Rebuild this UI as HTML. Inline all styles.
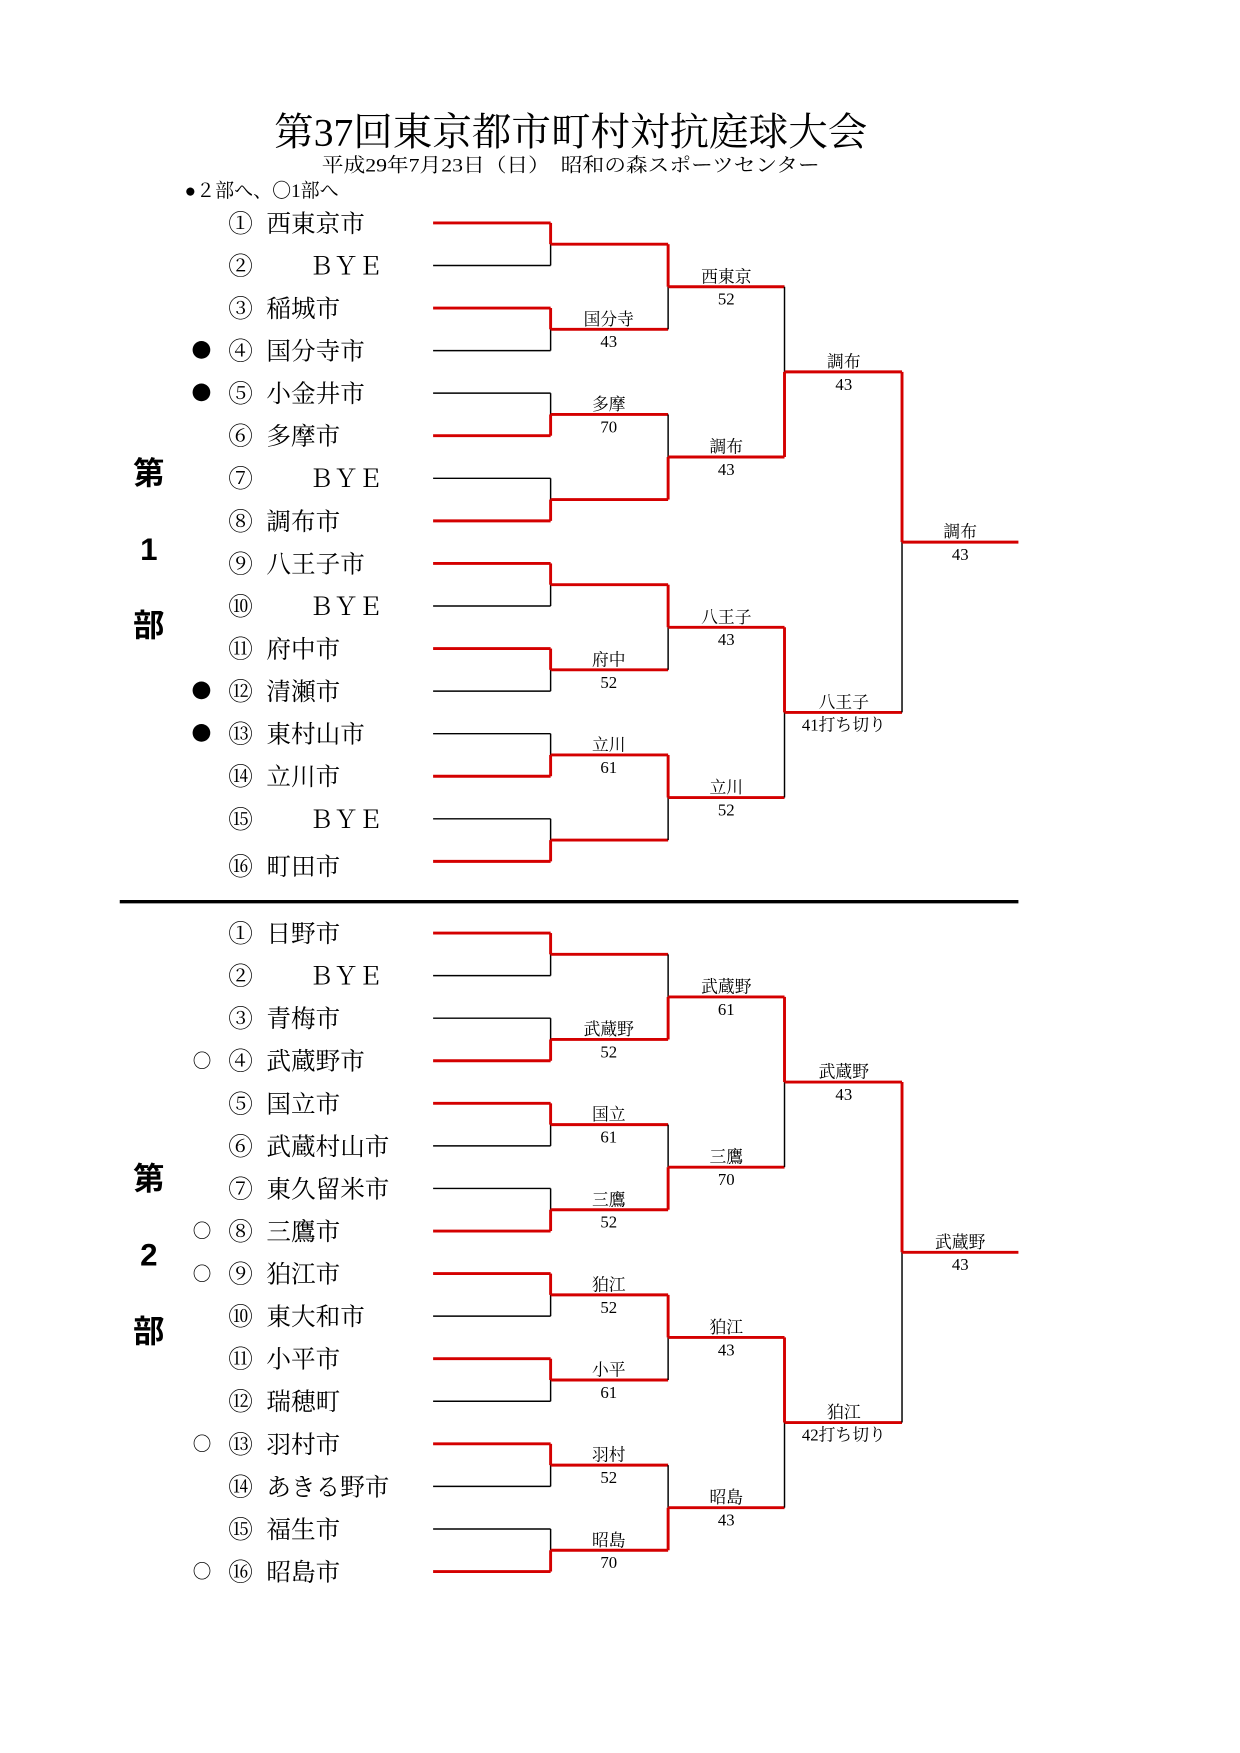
<!DOCTYPE html>
<html><head><meta charset="utf-8"><style>
html,body{margin:0;padding:0;background:#fff;width:1240px;height:1753px;overflow:hidden}
svg{display:block}
.t{font-family:"Liberation Serif","Noto Serif CJK SC","Noto Sans CJK JP",serif;fill:#000}
.n{font-family:"Noto Serif CJK SC","Liberation Serif",serif;font-size:22px}
.k{font-family:"Noto Serif CJK SC","Liberation Serif",serif;font-size:18px}
.o{font-family:"Noto Serif CJK SC","Liberation Serif",serif;font-size:17px}
.l{font-size:15px;text-anchor:middle}
.b{font-family:"Liberation Sans","Noto Sans CJK JP",sans-serif;font-weight:bold;font-size:28px;text-anchor:middle}
</style></head><body>
<svg id="s" width="1240" height="1753" viewBox="0 0 1108 1565" preserveAspectRatio="none" xmlns="http://www.w3.org/2000/svg">
<text class="t" x="510" y="130" font-size="35" text-anchor="middle" textLength="530" lengthAdjust="spacingAndGlyphs">第37回東京都市町村対抗庭球大会</text>
<text class="t" x="510" y="153" font-size="17" text-anchor="middle" textLength="445" lengthAdjust="spacingAndGlyphs">平成29年7月23日（日）　昭和の森スポーツセンター</text>
<text class="t" x="165" y="176" font-size="17" font-family="Noto Serif CJK SC">●２部へ、〇1部へ</text>
<line x1="107" y1="805" x2="910" y2="805" stroke="#000" stroke-width="3"/>
<text class="b" x="133" y="432">第</text><text class="b" x="133" y="500">1</text><text class="b" x="133" y="568">部</text>
<text class="b" x="133" y="1062">第</text><text class="b" x="133" y="1130">2</text><text class="b" x="133" y="1198">部</text>
<g class="n">
<text x="204" y="207">①<tspan x="238">西東京市</tspan></text>
<text x="204" y="245">②<tspan x="276">ＢＹＥ</tspan></text>
<text x="204" y="283">③<tspan x="238">稲城市</tspan></text>
<text x="204" y="321">④<tspan x="238">国分寺市</tspan></text>
<text x="204" y="359">⑤<tspan x="238">小金井市</tspan></text>
<text x="204" y="397">⑥<tspan x="238">多摩市</tspan></text>
<text x="204" y="435">⑦<tspan x="276">ＢＹＥ</tspan></text>
<text x="204" y="473">⑧<tspan x="238">調布市</tspan></text>
<text x="204" y="511">⑨<tspan x="238">八王子市</tspan></text>
<text x="204" y="549">⑩<tspan x="276">ＢＹＥ</tspan></text>
<text x="204" y="587">⑪<tspan x="238">府中市</tspan></text>
<text x="204" y="625">⑫<tspan x="238">清瀬市</tspan></text>
<text x="204" y="663">⑬<tspan x="238">東村山市</tspan></text>
<text x="204" y="701">⑭<tspan x="238">立川市</tspan></text>
<text x="204" y="739">⑮<tspan x="276">ＢＹＥ</tspan></text>
<text x="204" y="781">⑯<tspan x="238">町田市</tspan></text>
<text x="204" y="841">①<tspan x="238">日野市</tspan></text>
<text x="204" y="879">②<tspan x="276">ＢＹＥ</tspan></text>
<text x="204" y="917">③<tspan x="238">青梅市</tspan></text>
<text x="204" y="955">④<tspan x="238">武蔵野市</tspan></text>
<text x="204" y="993">⑤<tspan x="238">国立市</tspan></text>
<text x="204" y="1031">⑥<tspan x="238">武蔵村山市</tspan></text>
<text x="204" y="1069">⑦<tspan x="238">東久留米市</tspan></text>
<text x="204" y="1107">⑧<tspan x="238">三鷹市</tspan></text>
<text x="204" y="1145">⑨<tspan x="238">狛江市</tspan></text>
<text x="204" y="1183">⑩<tspan x="238">東大和市</tspan></text>
<text x="204" y="1221">⑪<tspan x="238">小平市</tspan></text>
<text x="204" y="1259">⑫<tspan x="238">瑞穂町</tspan></text>
<text x="204" y="1297">⑬<tspan x="238">羽村市</tspan></text>
<text x="204" y="1335">⑭<tspan x="238">あきる野市</tspan></text>
<text x="204" y="1373">⑮<tspan x="238">福生市</tspan></text>
<text x="204" y="1411">⑯<tspan x="238">昭島市</tspan></text>
</g>
<g class="k">
<text x="171" y="319">●</text><text x="171" y="357">●</text><text x="171" y="623">●</text><text x="171" y="661">●</text>
</g>
<g class="o">
<text x="172" y="953">○</text><text x="172" y="1105">○</text><text x="172" y="1143">○</text><text x="172" y="1295">○</text><text x="172" y="1409">○</text>
</g>
<g class="t l">
<text x="544" y="290">国分寺</text><text x="544" y="310">43</text>
<text x="544" y="366">多摩</text><text x="544" y="386">70</text>
<text x="544" y="594">府中</text><text x="544" y="614">52</text>
<text x="544" y="670">立川</text><text x="544" y="690">61</text>
<text x="649" y="252">西東京</text><text x="649" y="272">52</text>
<text x="649" y="404">調布</text><text x="649" y="424">43</text>
<text x="649" y="556">八王子</text><text x="649" y="576">43</text>
<text x="649" y="708">立川</text><text x="649" y="728">52</text>
<text x="754" y="328">調布</text><text x="754" y="348">43</text>
<text x="754" y="632">八王子</text><text x="754" y="652">41打ち切り</text>
<text x="858" y="480">調布</text><text x="858" y="500">43</text>
<text x="544" y="924">武蔵野</text><text x="544" y="944">52</text>
<text x="544" y="1000">国立</text><text x="544" y="1020">61</text>
<text x="544" y="1076">三鷹</text><text x="544" y="1096">52</text>
<text x="544" y="1152">狛江</text><text x="544" y="1172">52</text>
<text x="544" y="1228">小平</text><text x="544" y="1248">61</text>
<text x="544" y="1304">羽村</text><text x="544" y="1324">52</text>
<text x="544" y="1380">昭島</text><text x="544" y="1400">70</text>
<text x="649" y="886">武蔵野</text><text x="649" y="906">61</text>
<text x="649" y="1038">三鷹</text><text x="649" y="1058">70</text>
<text x="649" y="1190">狛江</text><text x="649" y="1210">43</text>
<text x="649" y="1342">昭島</text><text x="649" y="1362">43</text>
<text x="754" y="962">武蔵野</text><text x="754" y="982">43</text>
<text x="754" y="1266">狛江</text><text x="754" y="1286">42打ち切り</text>
<text x="858" y="1114">武蔵野</text><text x="858" y="1134">43</text>
</g>
<g id="lines"></g>
</svg>
<script>
var g=document.getElementById('lines'),R='#d40000';
function ln(x1,y1,x2,y2,red){var e=document.createElementNS('http://www.w3.org/2000/svg','line');
e.setAttribute('x1',x1);e.setAttribute('y1',y1);e.setAttribute('x2',x2);e.setAttribute('y2',y2);
e.setAttribute('stroke',red?R:'#000');e.setAttribute('stroke-width',red?2.6:1.3);g.appendChild(e);}
function bracket(rows,w1,w2,w3,w4){
 var xs=[387,492,597,701,806,910];
 var ys=rows.slice(),ws=[w1,w2,w3,w4];
 for(var i=0;i<16;i++){ln(xs[0],ys[i],xs[1],ys[i],w1[i>>1]===(i%2))}
 var cur=ys;
 for(var r=0;r<4;r++){
  var nx=[],w=ws[r];
  for(var m=0;m<cur.length/2;m++){
   var a=cur[2*m],b=cur[2*m+1],mid=(a+b)/2,x=xs[r+1];
   ln(x,a,x,mid,w[m]===0);ln(x,mid,x,b,w[m]===1);
   ln(x,mid,xs[r+2],mid,true);nx.push(mid);
  }
  cur=nx;
 }
}
var r1=[199,237,275,313,351,389,427,465,503,541,579,617,655,693,731,769];
bracket(r1,[0,0,1,1,0,0,1,1],[0,1,0,0],[1,0],[0]);
var r2=[];for(var i=0;i<16;i++)r2.push(833+38*i);
bracket(r2,[0,1,0,1,0,0,0,1],[1,1,0,1],[0,0],[0]);
</script>
</body></html>
